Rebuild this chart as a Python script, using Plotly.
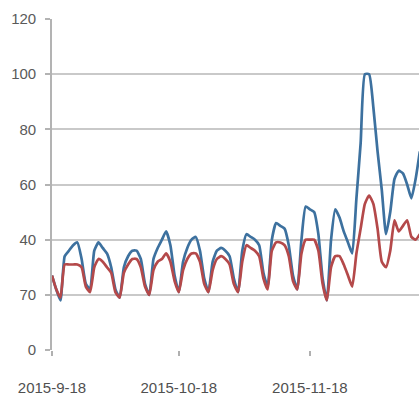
import datetime as dt
import plotly.graph_objects as go

# Daily series starting 2015-09-18
start = dt.date(2015, 9, 18)

series_a = [27, 22, 18, 34, 36, 38, 39, 33, 24, 22,
            36, 39, 37, 35, 30, 22, 19, 30, 34, 36,
            36, 33, 24, 20, 33, 37, 40, 43, 38, 27,
            21, 32, 37, 40, 41, 36, 26, 21, 32, 36,
            37, 36, 34, 26, 21, 36, 42, 41, 40, 38,
            28, 23, 40, 46, 45, 44, 38, 27, 22, 40,
            52, 51, 50, 42, 26, 18, 40, 51, 48, 43,
            39, 35, 55, 75, 100, 100, 88, 72, 58, 42,
            50, 62, 65, 64, 60, 55, 62, 72]

series_b = [27, 22, 19, 31, 31, 31, 31, 30, 23, 21,
            30, 33, 32, 30, 28, 21, 19, 28, 31, 33,
            33, 30, 23, 20, 29, 32, 33, 35, 32, 25,
            21, 29, 33, 35, 35, 32, 24, 21, 29, 33,
            34, 33, 31, 24, 21, 32, 38, 37, 36, 34,
            26, 22, 36, 39, 39, 38, 34, 25, 22, 35,
            40, 40, 40, 36, 24, 18, 30, 34, 34, 31,
            27, 23, 35, 44, 53, 56, 53, 44, 32, 30,
            36, 47, 43, 45, 47, 41, 40, 42]

dates = [start + dt.timedelta(days=i) for i in range(len(series_a))]

tick_dates = ["2015-09-18", "2015-10-18", "2015-11-18"]
tick_text = ["2015-9-18", "2015-10-18", "2015-11-18"]
y_vals = [0, 20, 40, 60, 80, 100, 120]
y_text = ["0", "70", "40", "60", "80", "100", "120"]

fig = go.Figure()
fig.add_trace(go.Scatter(x=dates, y=series_a, mode="lines",
                         line=dict(color="#3d719f", width=2.7,
                                   shape="spline", smoothing=0.5),
                         showlegend=False))
fig.add_trace(go.Scatter(x=dates, y=series_b, mode="lines",
                         line=dict(color="#b4494a", width=2.7,
                                   shape="spline", smoothing=0.5),
                         showlegend=False))

x_end = dt.datetime(2015, 9, 18) + dt.timedelta(days=86.8)

fig.update_layout(
    width=419, height=396,
    margin=dict(l=52, r=0, t=19, b=41),
    paper_bgcolor="white", plot_bgcolor="white",
    font=dict(family="Liberation Sans, Arial, sans-serif", size=15, color="#5a5a5a"),
    xaxis=dict(
        type="date",
        range=[dt.datetime(2015, 9, 18), x_end],
        tickvals=tick_dates, ticktext=tick_text,
        showgrid=False, zeroline=False,
        showline=False,
        ticks="outside", ticklen=5, tickcolor="#b0b0b0", tickwidth=1.5,
        ticklabelstandoff=19,
        tickfont=dict(size=15, color="#505050"),
    ),
    yaxis=dict(
        range=[0, 120],
        tickvals=y_vals, ticktext=y_text,
        showgrid=True, gridcolor="#c9c9c9", gridwidth=1.6,
        zeroline=False,
        showline=True, linecolor="#b3b3b3", linewidth=1.6,
        ticks="outside", ticklen=5, tickcolor="#b3b3b3", tickwidth=1.5,
        ticklabelstandoff=6,
        tickfont=dict(size=15, color="#5a5a5a"),
    ),
)

fig.write_html("out.html")
